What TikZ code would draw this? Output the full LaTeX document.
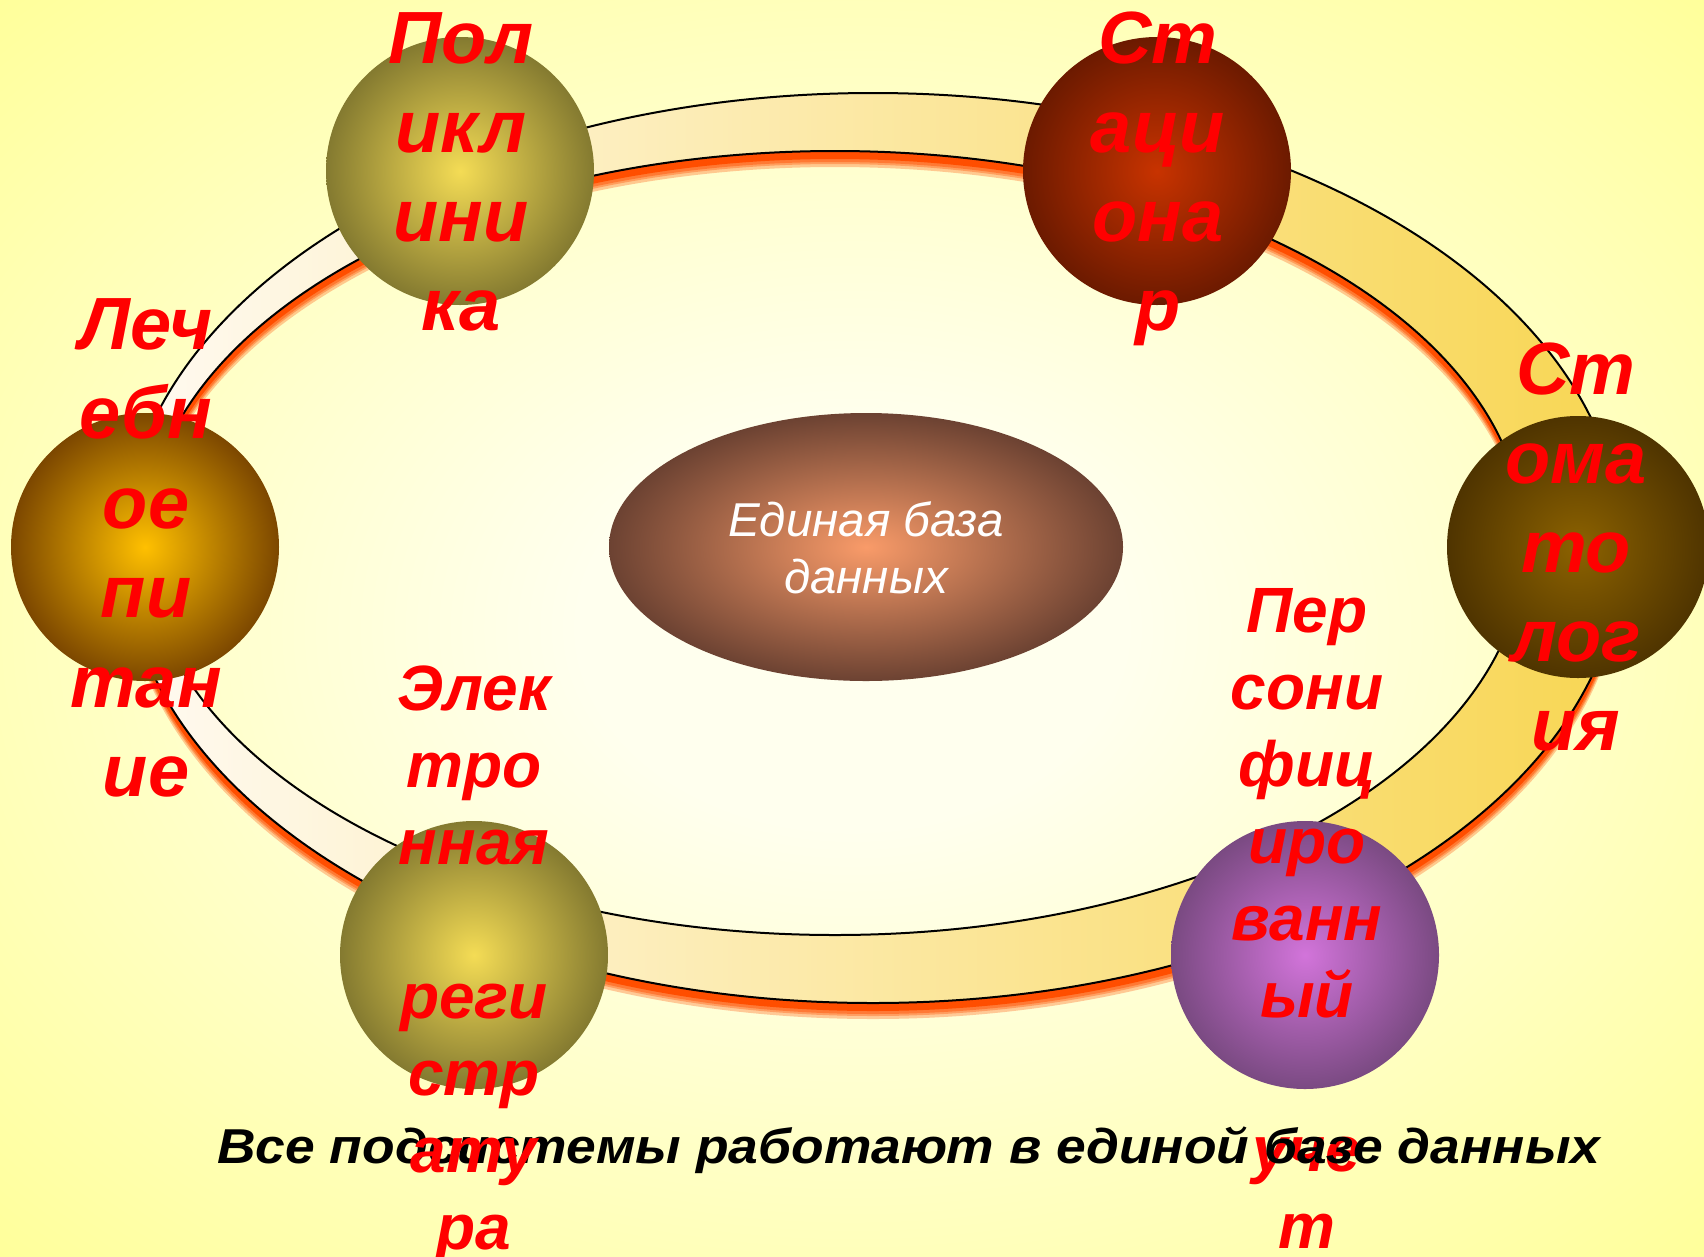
\documentclass[tikz,border=0pt]{standalone}
\usepackage{fontspec}
\usepackage{graphicx}
\usetikzlibrary{shapes.geometric}
\setmainfont{Liberation Sans}
\definecolor{bgin}{HTML}{FFFFEE}
\definecolor{bgout}{HTML}{FFFF99}
\definecolor{ringL}{HTML}{FFFAF2}
\definecolor{ringR}{HTML}{F8D653}
\definecolor{shadowc}{HTML}{FF4E00}
\definecolor{polyin}{HTML}{F4DC55}
\definecolor{polyout}{HTML}{847A30}
\definecolor{statin}{HTML}{C83300}
\definecolor{statout}{HTML}{6C1A00}
\definecolor{stomin}{HTML}{8C6200}
\definecolor{stomout}{HTML}{4F3400}
\definecolor{lechin}{HTML}{FFC000}
\definecolor{lechout}{HTML}{7C4700}
\definecolor{persin}{HTML}{D274DA}
\definecolor{persout}{HTML}{7A4A82}
\definecolor{dbin}{HTML}{F99B69}
\definecolor{dbout}{HTML}{6C4232}
\definecolor{lblred}{HTML}{FF0000}
\pgfdeclareradialshading{bgshade}{\pgfpoint{0bp}{0bp}}{color(0bp)=(bgin); color(8bp)=(bgin); color(36bp)=(bgout); color(50bp)=(bgout)}
\begin{document}
\begin{tikzpicture}[x=1pt,y=-1pt,
  ringp/.style={insert path={(873,548) ellipse [x radius=749pt, y radius=455pt] (835,543) ellipse [x radius=690pt, y radius=392pt]}},
  ball/.style={circle, minimum size=268pt, inner sep=0pt, draw=none},
  bigl/.style={text=lblred, font=\bfseries\itshape\fontsize{74}{89}\selectfont, anchor=base, inner sep=0pt},
  smalll/.style={text=lblred, font=\bfseries\itshape\fontsize{64}{77}\selectfont, anchor=base, inner sep=0pt},
  dbtext/.style={text=white, font=\itshape\fontsize{47.5}{57}\selectfont, anchor=base, inner sep=0pt},
  foot/.style={text=black, font=\bfseries\itshape\fontsize{49}{58}\selectfont, anchor=base west, inner sep=0pt}]
\useasboundingbox (0,0) rectangle (1704,1256);
% background
\fill[shading=bgshade] (0,0) rectangle (1704,1256);
% shadow of the ring
\fill[even odd rule, shadowc, opacity=0.3, shift={(0,16)}, ringp];
\fill[even odd rule, shadowc, opacity=0.35, shift={(0,13)}, ringp];
\fill[even odd rule, shadowc, opacity=0.45, shift={(0,11)}, ringp];
\fill[even odd rule, shadowc, shift={(0,8)}, ringp];
% ring
\shade[even odd rule, left color=ringL, right color=ringR, ringp];
\draw[line width=2pt, ringp];
% balls
\node[ball, inner color=polyin, outer color=polyout] (poly) at (460,171) {};
\node[ball, inner color=statin, outer color=statout] (stat) at (1157,171) {};
\node[ball, inner color=stomin, outer color=stomout, minimum size=262pt] (stom) at (1578,547) {};
\node[ball, inner color=lechin, outer color=lechout] (lech) at (145,547) {};
\node[ball, inner color=polyin, outer color=polyout] (elec) at (474,955) {};
\node[ball, inner color=persin, outer color=persout] (pers) at (1305,955) {};
% central database
\node[ellipse, minimum width=514pt, minimum height=268pt, inner sep=0pt, inner color=dbin, outer color=dbout] (db) at (866,547) {};
\node[dbtext] (db1) at (866,536) {Единая база};
\node[dbtext] (db2) at (866,593) {данных};
% labels
\foreach \t [count=\i] in {Пол,икл,ини,ка}
  \node[bigl] (polyt\i) at ({461},{63+89*(\i-1)}) {\t};
\foreach \t [count=\i] in {Ст,аци,она,р}
  \node[bigl] (statt\i) at ({1158},{63+89*(\i-1)}) {\t};
\foreach \t [count=\i] in {Ст,ома,то,лог,ия}
  \node[bigl] (stomt\i) at ({1576},{394+89*(\i-1)}) {\t};
\foreach \t [count=\i] in {Леч,ебн,ое,пи,тан,ие}
  \node[bigl] (lecht\i) at ({146},{349+89.5*(\i-1)}) {\t};
\foreach \t/\k in {Пер/0,сони/1,фиц/2,иро/3,ванн/4,ый/5,уче/7,т/8}
  \node[smalll] (perst\k) at ({1307},{632+77*\k}) {\t};
\node[foot] (footer) at (217,1163) {\scalebox{1.089}[1]{Все подсистемы работают в единой базе данных}};
\foreach \t/\k in {Элек/0,тро/1,нная/2,реги/4,стр/5,ату/6,ра/7}
  \node[smalll] (elect\k) at ({474},{710+77*\k}) {\t};
\end{tikzpicture}
\end{document}
